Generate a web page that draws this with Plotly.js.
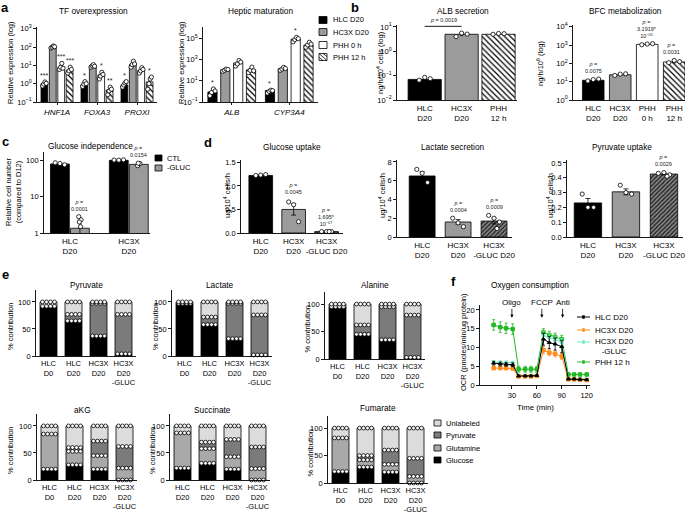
<!DOCTYPE html>
<html><head><meta charset="utf-8">
<script src="https://cdn.plot.ly/plotly-3.0.1.min.js"></script>
<style>html,body{margin:0;padding:0;background:#fff}#chart{width:685px;height:514px}</style>
</head><body><div id="chart"></div>
<script>
const FONT = '"Liberation Sans", Arial, sans-serif';
const W = 685, H = 514;

/* ================= DATA ================= */
// ---- a: TF overexpression ----
const aTFGenes = ['HNF1A', 'FOXA3', 'PROXI'];
const aGroupNames = ['HLC D20', 'HC3X D20', 'PHH 0 h', 'PHH 12 h'];
const aTF_HLC = [1.0, 0.9, 0.85];
const aTF_HC3X = [100, 9.5, 11];
const aTF_PHH0 = [8, 3, 5.5];
const aTF_PHH12 = [5.5, 0.45, 1.25];
const aTF_HLC_err = [0.12, 0.12, 0.12];
const aTF_HC3X_err = [6, 0.7, 2];
const aTF_PHH0_err = [1.5, 0.5, 0.8];
const aTF_PHH12_err = [1.0, 0.1, 0.4];
const aTF_HLC_pts = [[0.75, 0.95, 1.25, 1.05], [0.7, 0.95, 1.3, 1.0], [0.65, 0.85, 1.1, 1.3]];
const aTF_HC3X_pts = [[90, 100, 115, 105], [8, 9.5, 11, 9], [8, 11, 17, 12]];
const aTF_PHH0_pts = [[6, 8, 13, 7], [1.8, 2.6, 4.2, 3.2], [3.8, 5, 7.5, 6]];
const aTF_PHH12_pts = [[3.8, 5, 8, 6], [0.25, 0.4, 0.65, 0.5], [0.5, 1.0, 1.8, 2.3]];
const aTF_HLC_sig = ['***', '*', '*'];
const aTF_PHH0_sig = ['***', '*', ''];
const aTF_PHH12_sig = ['***', '**', '*'];

// ---- a: Hepatic maturation ----
const aMatGenes = ['ALB', 'CYP3A4'];
const aMat_HLC = [0.9, 1.2];
const aMat_HC3X = [110, 140];
const aMat_PHH0 = [500, 90000];
const aMat_PHH12 = [110, 25000];
const aMat_HLC_err = [0.3, 0.2];
const aMat_HC3X_err = [15, 25];
const aMat_PHH0_err = [150, 15000];
const aMat_PHH12_err = [40, 6000];
const aMat_HLC_pts = [[0.4, 0.8, 1.7, 1.1], [0.7, 1.0, 1.3, 1.2]];
const aMat_HC3X_pts = [[80, 100, 130, 120], [100, 130, 190, 150]];
const aMat_PHH0_pts = [[250, 400, 850, 600], [50000, 80000, 130000, 100000]];
const aMat_PHH12_pts = [[60, 100, 200, 90], [15000, 25000, 45000, 30000]];
const aMat_HLC_sig = ['*', '*'];
const aMat_PHH0_sig = ['', '*'];

// ---- b ----
const bALBCats = ['HLC<br>D20', 'HC3X<br>D20', 'PHH<br>12 h'];
const bALB = [0.07, 5.0, 5.0];
const bALB_err = [0.008, 0.6, 0.2];
const bALB_pts = [[0.065, 0.085, 0.075], [4.0, 5.6, 5.1], [5.0, 5.4, 5.3]];
const bALB_p = '0.0019';
const bBFCCats = ['HLC<br>D20', 'HC3X<br>D20', 'PHH<br>0 h', 'PHH<br>12 h'];
const bBFC = [12, 24, 1100, 120];
const bBFC_err = [1, 1.5, 60, 12];
const bBFC_pts = [[11, 13, 14], [22, 26, 27], [1050, 1150, 1200], [110, 145, 125]];
const bBFC_p = ['0.0075', '', '3.1919*<br>10<sup>−05</sup>', '0.0031'];

// ---- c ----
const cCats = ['HLC<br>D20', 'HC3X<br>D20'];
const cCTL = [78, 98];
const cGLUC = [1.35, 76];
const cCTL_err = [4, 1.5];
const cGLUC_err = [0.5, 4];
const cCTL_pts = [[84, 80, 74], [100, 99, 101]];
const cGLUC_pts = [[2.8, 2.3, 2.0, 1.5], [70, 80, 82]];
const cGLUC_p = ['0.0001', '0.0154'];

// ---- d ----
const dCats = ['HLC<br>D20', 'HC3X<br>D20', 'HC3X<br>-GLUC D20'];
const dGlu = [1.22, 0.5, 0.03];
const dGlu_err = [0.01, 0.12, 0.005];
const dGlu_pts = [[1.22, 1.23, 1.24], [0.66, 0.6, 0.24], [0.03, 0.03, 0.03, 0.03]];
const dGlu_p = ['', '0.0045', '1.695*<br>10<sup>−07</sup>'];
const dLac = [6.5, 1.6, 1.7];
const dLac_err = [0.45, 0.25, 0.3];
const dLac_pts = [[7.2, 6.8, 5.8], [2.0, 1.5, 1.1], [2.3, 2.0, 1.6, 0.9]];
const dLac_p = ['', '0.0004', '0.0009'];
const dPyr = [0.23, 0.305, 0.425];
const dPyr_err = [0.03, 0.02, 0.006];
const dPyr_pts = [[0.29, 0.2, 0.2], [0.35, 0.3, 0.29], [0.43, 0.435, 0.42, 0.41]];
const dPyr_p = ['', '', '0.0029'];

// ---- e ----
const eCats = ['HLC<br>D0', 'HLC<br>D20', 'HC3X<br>D20', 'HC3X<br>D20<br>-GLUC'];
const eCatsSucc = ['HLC<br>D20', 'HLC<br>D20', 'HC3X<br>D20', 'HC3X<br>D20<br>-GLUC'];
const eSources = ['Glucose', 'Glutamine', 'Pyruvate', 'Unlabeled'];
const ePyr_Glucose = [92, 65, 37, 4];
const ePyr_Glutamine = [0, 0, 0, 0];
const ePyr_Pyruvate = [0, 12, 60, 73];
const ePyr_Unlabeled = [8, 23, 3, 23];
const eLac_Glucose = [97, 58, 32, 2];
const eLac_Glutamine = [0, 0, 0, 0];
const eLac_Pyruvate = [0, 14, 65, 74];
const eLac_Unlabeled = [3, 28, 3, 24];
const eAla_Glucose = [95, 45, 35, 3];
const eAla_Glutamine = [0, 0, 0, 0];
const eAla_Pyruvate = [0, 17, 60, 77];
const eAla_Unlabeled = [5, 38, 5, 20];
const eAKG_Glucose = [20, 28, 20, 0];
const eAKG_Glutamine = [65, 25, 25, 22];
const eAKG_Pyruvate = [0, 7, 27, 40];
const eAKG_Unlabeled = [15, 40, 28, 38];
const eSuc_Glucose = [22, 31, 20, 0];
const eSuc_Glutamine = [65, 27, 23, 21];
const eSuc_Pyruvate = [0, 12, 32, 40];
const eSuc_Unlabeled = [13, 30, 25, 39];
const eFum_Glucose = [21, 29, 20, 0];
const eFum_Glutamine = [61, 13, 14, 12];
const eFum_Pyruvate = [0, 8, 26, 33];
const eFum_Unlabeled = [18, 50, 40, 55];

// ---- f ----
const fTime = [8, 16, 23, 31, 38, 46, 53, 60, 68, 75, 82, 90, 98, 105, 112, 120];
const fHLC = [5.8, 5.6, 5.5, 5.4, 2.4, 2.4, 2.4, 2.5, 12.2, 11.3, 10.9, 10.2, 1.6, 1.6, 1.5, 1.4];
const fHLC_err = [0.5, 0.5, 0.5, 0.5, 0.2, 0.2, 0.2, 0.2, 1.6, 1.6, 1.6, 1.6, 0.2, 0.2, 0.2, 0.2];
const fHC3X = [4.5, 4.5, 4.5, 4.4, 2.3, 2.3, 2.3, 2.4, 9.3, 8.6, 8.3, 7.6, 1.5, 1.5, 1.4, 1.3];
const fHC3X_err = [0.4, 0.4, 0.4, 0.4, 0.2, 0.2, 0.2, 0.2, 0.9, 0.8, 0.8, 0.8, 0.2, 0.2, 0.2, 0.2];
const fGLUC = [6.1, 6.0, 6.0, 5.9, 2.6, 2.6, 2.6, 2.6, 13.2, 12.6, 12.0, 11.4, 1.7, 1.7, 1.7, 1.6];
const fGLUC_err = [0.4, 0.4, 0.4, 0.4, 0.2, 0.2, 0.2, 0.2, 1.0, 1.0, 1.0, 1.0, 0.2, 0.2, 0.2, 0.2];
const fPHH = [16.0, 15.4, 15.1, 14.9, 4.2, 4.2, 4.2, 4.2, 14.0, 13.3, 12.8, 12.2, 2.8, 2.8, 2.8, 2.8];
const fPHH_err = [1.4, 1.4, 1.4, 1.4, 0.8, 0.8, 0.8, 0.8, 1.0, 1.0, 1.0, 1.0, 0.3, 0.3, 0.3, 0.3];
const fNames = ['HLC D20', 'HC3X D20', 'HC3X D20<br>-GLUC', 'PHH 12 h'];
const fInjTime = [30, 66, 91];
const fInjNames = ['Oligo', 'FCCP', 'Anti'];

/* ================= HELPERS ================= */
const traces = [], annotations = [], shapes = [];
const layout = {
  width: W, height: H, margin: {l: 0, r: 0, t: 0, b: 0},
  paper_bgcolor: 'white', plot_bgcolor: 'rgba(0,0,0,0)',
  showlegend: false, barmode: 'overlay',
  font: {family: FONT, size: 7.5, color: 'black'},
  annotations: annotations, shapes: shapes
};
const baseAxis = {showline: true, linecolor: 'black', linewidth: 0.9, showgrid: false, zeroline: false,
  ticks: 'outside', ticklen: 3, tickwidth: 0.9, tickcolor: 'black', tickangle: 0, ticklabeloverflow: 'allow',
  tickfont: {family: FONT, size: 7.5, color: 'black'}, fixedrange: true};
function axs(n) { return n === 1 ? '' : String(n); }
function setAxes(n, x0, x1, yt, yb, xo, yo) {
  const s = axs(n);
  layout['xaxis' + s] = Object.assign({}, baseAxis, {domain: [x0 / W, x1 / W], anchor: 'y' + s, ticks: '', type: 'linear', tickmode: 'array'}, xo);
  layout['yaxis' + s] = Object.assign({}, baseAxis, {domain: [1 - yb / H, 1 - yt / H], anchor: 'x' + s, tickmode: 'array'}, yo);
}
const dotMarker = {symbol: 'circle', size: 4.2, color: 'white', line: {color: 'black', width: 0.8}};
function addBars(n, vals, opt) {
  const s = axs(n);
  const tr = {type: 'bar', x: vals.map((v, i) => i + opt.offset), y: vals, width: opt.width,
    xaxis: 'x' + s, yaxis: 'y' + s,
    marker: {color: opt.color, line: {color: 'black', width: 0.8}},
    showlegend: false, hoverinfo: 'skip'};
  if (opt.pattern) tr.marker.pattern = opt.pattern;
  if (opt.base) tr.base = opt.base;
  if (opt.err) tr.error_y = {type: 'data', array: opt.err, color: 'black', thickness: 0.8, width: opt.capw || 1.5, visible: true};
  traces.push(tr);
  if (opt.pts) {
    const px = [], py = [];
    opt.pts.forEach((arr, i) => arr.forEach((v, k) => { px.push(i + opt.offset + opt.jit[k % opt.jit.length]); py.push(v); }));
    traces.push({type: 'scatter', mode: 'markers', x: px, y: py, xaxis: 'x' + s, yaxis: 'y' + s,
      marker: dotMarker, showlegend: false, hoverinfo: 'skip', cliponaxis: false});
  }
}
function note(n, x, y, text, isLog, size, yshift, xshift) {
  const s = axs(n);
  annotations.push({xref: 'x' + s, yref: 'y' + s, x: x, y: isLog ? Math.log10(y) : y, text: text,
    showarrow: false, yanchor: 'bottom', xanchor: 'center', yshift: yshift || 1, xshift: xshift || 0,
    font: {family: FONT, size: size || 5.5, color: '#222'}});
}
function ptxt(x, y, text, size, extra) {
  annotations.push(Object.assign({xref: 'paper', yref: 'paper', x: x / W, y: 1 - y / H, text: text,
    showarrow: false, xanchor: 'center', yanchor: 'middle', font: {family: FONT, size: size, color: 'black'}}, extra || {}));
}
function prect(x0, y0, x1, y1, fill) {
  shapes.push({type: 'rect', xref: 'paper', yref: 'paper', x0: x0 / W, x1: x1 / W, y0: 1 - y1 / H, y1: 1 - y0 / H,
    fillcolor: fill, line: {color: 'black', width: 0.8}});
}
function pline(x0, y0, x1, y1, color, width) {
  shapes.push({type: 'line', xref: 'paper', yref: 'paper', x0: x0 / W, x1: x1 / W, y0: 1 - y0 / H, y1: 1 - y1 / H,
    line: {color: color, width: width}});
}
const logTxt = {'-2': '10<sup>−2</sup>', '-1': '10<sup>−1</sup>', '0': '10<sup>0</sup>', '1': '10<sup>1</sup>', '2': '10<sup>2</sup>',
  '3': '10<sup>3</sup>', '4': '10<sup>4</sup>', '5': '10<sup>5</sup>'};
function logTicks(exps) { return {tickvals: exps.map(e => Math.pow(10, e)), ticktext: exps.map(e => logTxt[String(e)])}; }

/* ================= STYLES ================= */
const GRAY = '#9b9b9b';
const hatchWhite = {shape: '\\', fgcolor: 'black', bgcolor: 'white', size: 4, solidity: 0.3};
const hatchDark = {shape: '/', fgcolor: '#222', bgcolor: '#8a8a8a', size: 3, solidity: 0.45};
const groupStyles = [
  {color: 'black'}, {color: GRAY}, {color: 'white'}, {color: 'white', pattern: hatchWhite}
];
const jit4 = [-0.045, -0.015, 0.015, 0.045];

/* ================= PANEL a ================= */
setAxes(1, 37, 157, 27, 102,
  {range: [-0.5, 2.5], tickvals: [0, 1, 2], ticktext: aTFGenes.map(g => '<i>' + g + '</i>'), ticks: 'outside', ticklen: 2, tickfont: {family: FONT, size: 8, color: 'black'}},
  Object.assign({type: 'log', range: [-1, 3.1]}, logTicks([-1, 0, 1, 2, 3])));
const aTFSeries = [
  [aTF_HLC, aTF_HLC_err, aTF_HLC_pts, aTF_HLC_sig],
  [aTF_HC3X, aTF_HC3X_err, aTF_HC3X_pts, null],
  [aTF_PHH0, aTF_PHH0_err, aTF_PHH0_pts, aTF_PHH0_sig],
  [aTF_PHH12, aTF_PHH12_err, aTF_PHH12_pts, aTF_PHH12_sig]
];
const aTFOff = [-0.315, -0.105, 0.105, 0.315];
aTFSeries.forEach((sr, j) => {
  addBars(1, sr[0], Object.assign({offset: aTFOff[j], width: 0.17, err: sr[1], pts: sr[2], jit: jit4, capw: 1.2}, groupStyles[j]));
  if (sr[3]) sr[3].forEach((t, i) => { if (t) note(1, i + aTFOff[j], Math.max(...sr[2][i]), t, true, 7, 0); });
});

setAxes(2, 203, 318, 27, 102,
  {range: [-0.5, 1.5], tickvals: [0, 1], ticktext: aMatGenes.map(g => '<i>' + g + '</i>'), ticks: 'outside', ticklen: 2, tickfont: {family: FONT, size: 8, color: 'black'}},
  Object.assign({type: 'log', range: [-1, 6.1]}, logTicks([-1, 1, 3, 5])));
const aMatSeries = [
  [aMat_HLC, aMat_HLC_err, aMat_HLC_pts, aMat_HLC_sig],
  [aMat_HC3X, aMat_HC3X_err, aMat_HC3X_pts, null],
  [aMat_PHH0, aMat_PHH0_err, aMat_PHH0_pts, aMat_PHH0_sig],
  [aMat_PHH12, aMat_PHH12_err, aMat_PHH12_pts, null]
];
const aMatOff = [-0.335, -0.112, 0.112, 0.335];
aMatSeries.forEach((sr, j) => {
  addBars(2, sr[0], Object.assign({offset: aMatOff[j], width: 0.16, err: sr[1], pts: sr[2], jit: jit4, capw: 1.5}, groupStyles[j]));
  if (sr[3]) sr[3].forEach((t, i) => { if (t) note(2, i + aMatOff[j], Math.max(...sr[2][i]), t, true, 7, 0); });
});

/* ================= PANEL b ================= */
setAxes(3, 397, 517, 25, 100,
  {range: [-0.75, 2.5], tickvals: [0, 1, 2], ticktext: bALBCats, tickfont: {family: FONT, size: 8, color: 'black'}},
  Object.assign({type: 'log', range: [-2, 1.08]}, logTicks([-2, -1, 0, 1])));
const bALBStyles = [{color: 'black'}, {color: GRAY}, {color: 'white', pattern: hatchWhite}];
bALB.forEach((v, i) => {
  addBars(3, [v], Object.assign({offset: i, width: 0.9, err: [bALB_err[i]], pts: [bALB_pts[i]], jit: [-0.15, 0, 0.15]}, bALBStyles[i]));
});
// significance bar between HLC and HC3X (shape y in data units on log axis)
shapes.push({type: 'line', xref: 'x3', yref: 'y3', x0: 0, x1: 1, y0: 10.6, y1: 10.6, line: {color: 'black', width: 0.9}});
note(3, 0.5, 10.6, '<i>p</i> = ' + bALB_p, true, 5.5, 1);

setAxes(4, 573, 685, 25, 100,
  {range: [-0.75, 3.4], tickvals: [0, 1, 2, 3], ticktext: bBFCCats, tickfont: {family: FONT, size: 8, color: 'black'}},
  Object.assign({type: 'log', range: [0, 4.1]}, logTicks([0, 1, 2, 3, 4])));
const bBFCStyles = [{color: 'black'}, {color: GRAY}, {color: 'white'}, {color: 'white', pattern: hatchWhite}];
bBFC.forEach((v, i) => {
  addBars(4, [v], Object.assign({offset: i, width: 0.8, err: [bBFC_err[i]], pts: [bBFC_pts[i]], jit: [-0.2, 0, 0.2]}, bBFCStyles[i]));
  if (bBFC_p[i]) note(4, i, Math.max(...bBFC_pts[i]), '<i>p</i> =<br>' + bBFC_p[i], true, 5.5, 3, i === 3 ? -3 : 0);
});

/* ================= PANEL c ================= */
setAxes(5, 44, 150, 152, 233,
  {range: [-0.44, 1.36], tickvals: [0, 1], ticktext: cCats, tickfont: {family: FONT, size: 8, color: 'black'}},
  {type: 'log', range: [0, 2.22], tickvals: [1, 10, 100], ticktext: ['1', '10', '100']});
addBars(5, cCTL, {offset: -0.17, width: 0.32, color: 'black', err: cCTL_err, pts: cCTL_pts, jit: [-0.08, 0, 0.08]});
addBars(5, cGLUC, {offset: 0.17, width: 0.32, color: GRAY, err: cGLUC_err, pts: cGLUC_pts, jit: [-0.02, 0.02, -0.01, 0.01]});
cGLUC_p.forEach((p, i) => note(5, i + 0.17, Math.max(...cGLUC_pts[i]), '<i>p</i> =<br>' + p, true, 5.5, 3));

/* ================= PANEL d ================= */
const dStyles = [{color: 'black'}, {color: GRAY}, {color: '#8a8a8a', pattern: hatchDark}];
const dTickFont = {family: FONT, size: 8, color: 'black'};
setAxes(6, 241, 343, 160, 233,
  {range: [-0.6, 2.5], tickvals: [0, 1, 2], ticktext: dCats, tickfont: dTickFont},
  {range: [0, 1.55], tickvals: [0, 0.5, 1, 1.5], ticktext: ['0.0', '0.5', '1.0', '1.5']});
setAxes(7, 397, 512, 160, 237,
  {range: [-0.7, 2.5], tickvals: [0, 1, 2], ticktext: dCats, tickfont: dTickFont},
  {range: [0, 8.2], tickvals: [0, 2, 4, 6, 8], ticktext: ['0', '2', '4', '6', '8']});
setAxes(8, 567, 683, 160, 237,
  {range: [-0.55, 2.5], tickvals: [0, 1, 2], ticktext: dCats, tickfont: dTickFont},
  {range: [0, 0.52], tickvals: [0, 0.1, 0.2, 0.3, 0.4, 0.5], ticktext: ['0.0', '0.1', '0.2', '0.3', '0.4', '0.5']});
const dSets = [[6, dGlu, dGlu_err, dGlu_pts, dGlu_p], [7, dLac, dLac_err, dLac_pts, dLac_p], [8, dPyr, dPyr_err, dPyr_pts, dPyr_p]];
dSets.forEach(ds => {
  ds[1].forEach((v, i) => {
    addBars(ds[0], [v], Object.assign({offset: i, width: 0.72, err: [ds[2][i]], pts: [ds[3][i]], jit: [-0.15, 0, 0.15, 0.08], capw: 2.5}, dStyles[i]));
    if (ds[4][i]) note(ds[0], i, Math.max(...ds[3][i]) + ds[2][i] * 0.3, '<i>p</i> =<br>' + ds[4][i], false, 5.5, 3);
  });
});

/* ================= PANEL e ================= */
const eColors = {Glucose: '#000000', Glutamine: '#a9a9a9', Pyruvate: '#7b7b7b', Unlabeled: '#dcdcdc'};
const ePanels = [
  {n: 9, name: 'Pyruvate', cats: eCats, d: [ePyr_Glucose, ePyr_Glutamine, ePyr_Pyruvate, ePyr_Unlabeled], x0: 36, yt: 290, yb: 356, tx: 87, ty: 285, ytx: 10},
  {n: 10, name: 'Lactate', cats: eCats, d: [eLac_Glucose, eLac_Glutamine, eLac_Pyruvate, eLac_Unlabeled], x0: 172, yt: 290, yb: 356, tx: 220, ty: 285, ytx: 155},
  {n: 11, name: 'Alanine', cats: eCats, d: [eAla_Glucose, eAla_Glutamine, eAla_Pyruvate, eAla_Unlabeled], x0: 325, yt: 292, yb: 359, tx: 375, ty: 285, ytx: 307},
  {n: 12, name: 'aKG', cats: eCats, d: [eAKG_Glucose, eAKG_Glutamine, eAKG_Pyruvate, eAKG_Unlabeled], x0: 37, yt: 414, yb: 480, tx: 82, ty: 410, ytx: 10},
  {n: 13, name: 'Succinate', cats: eCatsSucc, d: [eSuc_Glucose, eSuc_Glutamine, eSuc_Pyruvate, eSuc_Unlabeled], x0: 170, yt: 414, yb: 480, tx: 213, ty: 410, ytx: 152},
  {n: 14, name: 'Fumarate', cats: eCats, d: [eFum_Glucose, eFum_Glutamine, eFum_Pyruvate, eFum_Unlabeled], x0: 328, yt: 416, yb: 483, tx: 378, ty: 408, ytx: 310}
];
const eJit = [-0.24, -0.08, 0.08, 0.24];
ePanels.forEach(p => {
  setAxes(p.n, p.x0, p.x0 + 100, p.yt, p.yb,
    {range: [-0.5, 3.5], tickvals: [0, 1, 2, 3], ticktext: p.cats, tickfont: {family: FONT, size: 7.5, color: 'black'}},
    {range: [0, 122], tickvals: [0, 50, 100], ticktext: ['0', '50', '100']});
  const cum = [0, 0, 0, 0];
  p.d.forEach((seg, si) => {
    const base = cum.slice();
    addBars(p.n, seg, {offset: 0, width: 0.68, base: base, color: eColors[eSources[si]]});
    const px = [], py = [];
    seg.forEach((v, i) => {
      cum[i] += v;
      if (v > 0 || si === 0) eJit.forEach(j => { px.push(i + j); py.push(cum[i]); });
    });
    const s = axs(p.n);
    traces.push({type: 'scatter', mode: 'markers', x: px, y: py, xaxis: 'x' + s, yaxis: 'y' + s,
      marker: {symbol: 'circle', size: 3.8, color: 'white', line: {color: 'black', width: 0.8}},
      showlegend: false, hoverinfo: 'skip', cliponaxis: false});
  });
  ptxt(p.tx, p.ty, p.name, 8.3);
  ptxt(p.ytx, (p.yt + p.yb) / 2 + 3, '% contribution', 7.5, {textangle: -90});
});

/* ================= PANEL f ================= */
setAxes(15, 480, 590, 305, 385,
  {range: [-8.4, 124], tickvals: [30, 60, 90, 120], ticktext: ['30', '60', '90', '120'], ticks: 'outside', ticklen: 3},
  {range: [0, 21.3], tickvals: [0, 5, 10, 15, 20], ticktext: ['0', '5', '10', '15', '20']});
const fSeries = [
  [fPHH, fPHH_err, '#22b822', 'square'],
  [fGLUC, fGLUC_err, '#72e8c6', 'asterisk-open'],
  [fHC3X, fHC3X_err, '#ff8c1a', 'square'],
  [fHLC, fHLC_err, 'black', 'triangle-up']
];
fSeries.forEach(fs => {
  traces.push({type: 'scatter', mode: 'lines+markers', x: fTime, y: fs[0], xaxis: 'x15', yaxis: 'y15',
    line: {color: fs[2], width: 1}, marker: {symbol: fs[3], size: 3.5, color: fs[2], line: {color: fs[2], width: 1}},
    error_y: {type: 'data', array: fs[1], color: fs[2], thickness: 0.8, width: 1.5},
    showlegend: false, hoverinfo: 'skip', cliponaxis: false});
});
fInjTime.forEach((t, i) => {
  annotations.push({xref: 'x15', yref: 'y15', x: t, y: 17.9, text: fInjNames[i], showarrow: true,
    ax: 0, ay: -15, arrowhead: 2, arrowsize: 0.8, arrowwidth: 0.8, arrowcolor: 'black',
    font: {family: FONT, size: 8, color: 'black'}});
});
ptxt(535, 407, 'Time (min)', 7.8);
ptxt(463, 342, 'OCR (pmoles/min/ug protein)', 7.5, {textangle: -90});
ptxt(530, 285, 'Oxygen consumption', 8.3);
// legend f
const fLegY = [317, 330, 346, 362];
const fLegOrder = [[3, 'black'], [2, '#ff8c1a'], [1, '#72e8c6'], [0, '#22b822']];
fLegOrder.forEach((lo, k) => {
  const y = k === 2 ? 342 : fLegY[k];
  pline(577, y, 590, y, lo[1], 1);
  prect(582.5, y - 1.5, 584.5, y + 1.5, lo[1]);
  shapes[shapes.length - 1].line = {color: lo[1], width: 0.5};
  ptxt(593, fLegY[k], fNames[k], 8, {xanchor: 'left'});
});

/* ================= TEXT: titles, axis titles, letters ================= */
ptxt(93, 11, 'TF overexpression', 8.3);
ptxt(260, 11, 'Heptic maturation', 8.3);
ptxt(463, 11, 'ALB secretion', 8.3);
ptxt(625, 11, 'BFC metabolization', 8.3);
ptxt(90, 146, 'Glucose independence', 8.3);
ptxt(292, 147, 'Glucose uptake', 8.3);
ptxt(453, 147, 'Lactate secretion', 8.3);
ptxt(622, 147, 'Pyruvate uptake', 8.3);

ptxt(10, 63, 'Relative expression (log)', 7.5, {textangle: -90});
ptxt(181, 63, 'Relative expression (log)', 7.5, {textangle: -90});
ptxt(380, 63, 'ng/h/10<sup>4</sup> cells (log)', 7.5, {textangle: -90});
ptxt(540, 63, 'ng/h/10<sup>6</sup> (log)', 7.5, {textangle: -90});
ptxt(13, 192, 'Relative cell number<br>(compared to D12)', 7.5, {textangle: -90});
ptxt(227, 196, 'ug/10<sup>4</sup> cells/h', 7.5, {textangle: -90});
ptxt(382, 196, 'ug/10<sup>4</sup> cells/h', 7.5, {textangle: -90});
ptxt(550, 196, 'ug/10<sup>4</sup> cells/h', 7.5, {textangle: -90});

const letterFont = 13;
[['a', 5, 8], ['b', 355, 8], ['c', 5, 141], ['d', 208, 142], ['e', 5, 274], ['f', 453, 281]].forEach(l => {
  ptxt(l[1], l[2], '<b>' + l[0] + '</b>', letterFont);
});

/* ================= LEGENDS a, c, e ================= */
const aLegY = [20, 32, 45, 57];
aGroupNames.forEach((nm, k) => {
  const fill = k === 0 ? 'black' : (k === 1 ? GRAY : 'white');
  prect(319, aLegY[k] - 3.5, 327, aLegY[k] + 3.5, fill);
  if (k === 3) {
    pline(319, aLegY[k] - 3.5, 327, aLegY[k] + 3.5, 'black', 0.8);
    pline(319, aLegY[k] + 0.5, 323, aLegY[k] + 3.5, 'black', 0.8);
    pline(323, aLegY[k] - 3.5, 327, aLegY[k] - 0.5, 'black', 0.8);
  }
  ptxt(331, aLegY[k], nm, 7.5, {xanchor: 'left'});
});
const cLegNames = ['CTL', '-GLUC'];
const cLegY = [158, 168];
cLegNames.forEach((nm, k) => {
  prect(155, cLegY[k] - 3, 162, cLegY[k] + 3, k === 0 ? 'black' : GRAY);
  ptxt(165, cLegY[k], nm, 7.5, {xanchor: 'left'});
});
const eLegOrder = ['Unlabeled', 'Pyruvate', 'Glutamine', 'Glucose'];
const eLegY = [423, 435, 448, 460];
eLegOrder.forEach((nm, k) => {
  prect(434, eLegY[k] - 3, 441, eLegY[k] + 3, eColors[nm]);
  ptxt(444, eLegY[k], nm, 7.5, {xanchor: 'left'});
});

Plotly.newPlot('chart', traces, layout, {staticPlot: true, displayModeBar: false});
</script></body></html>
